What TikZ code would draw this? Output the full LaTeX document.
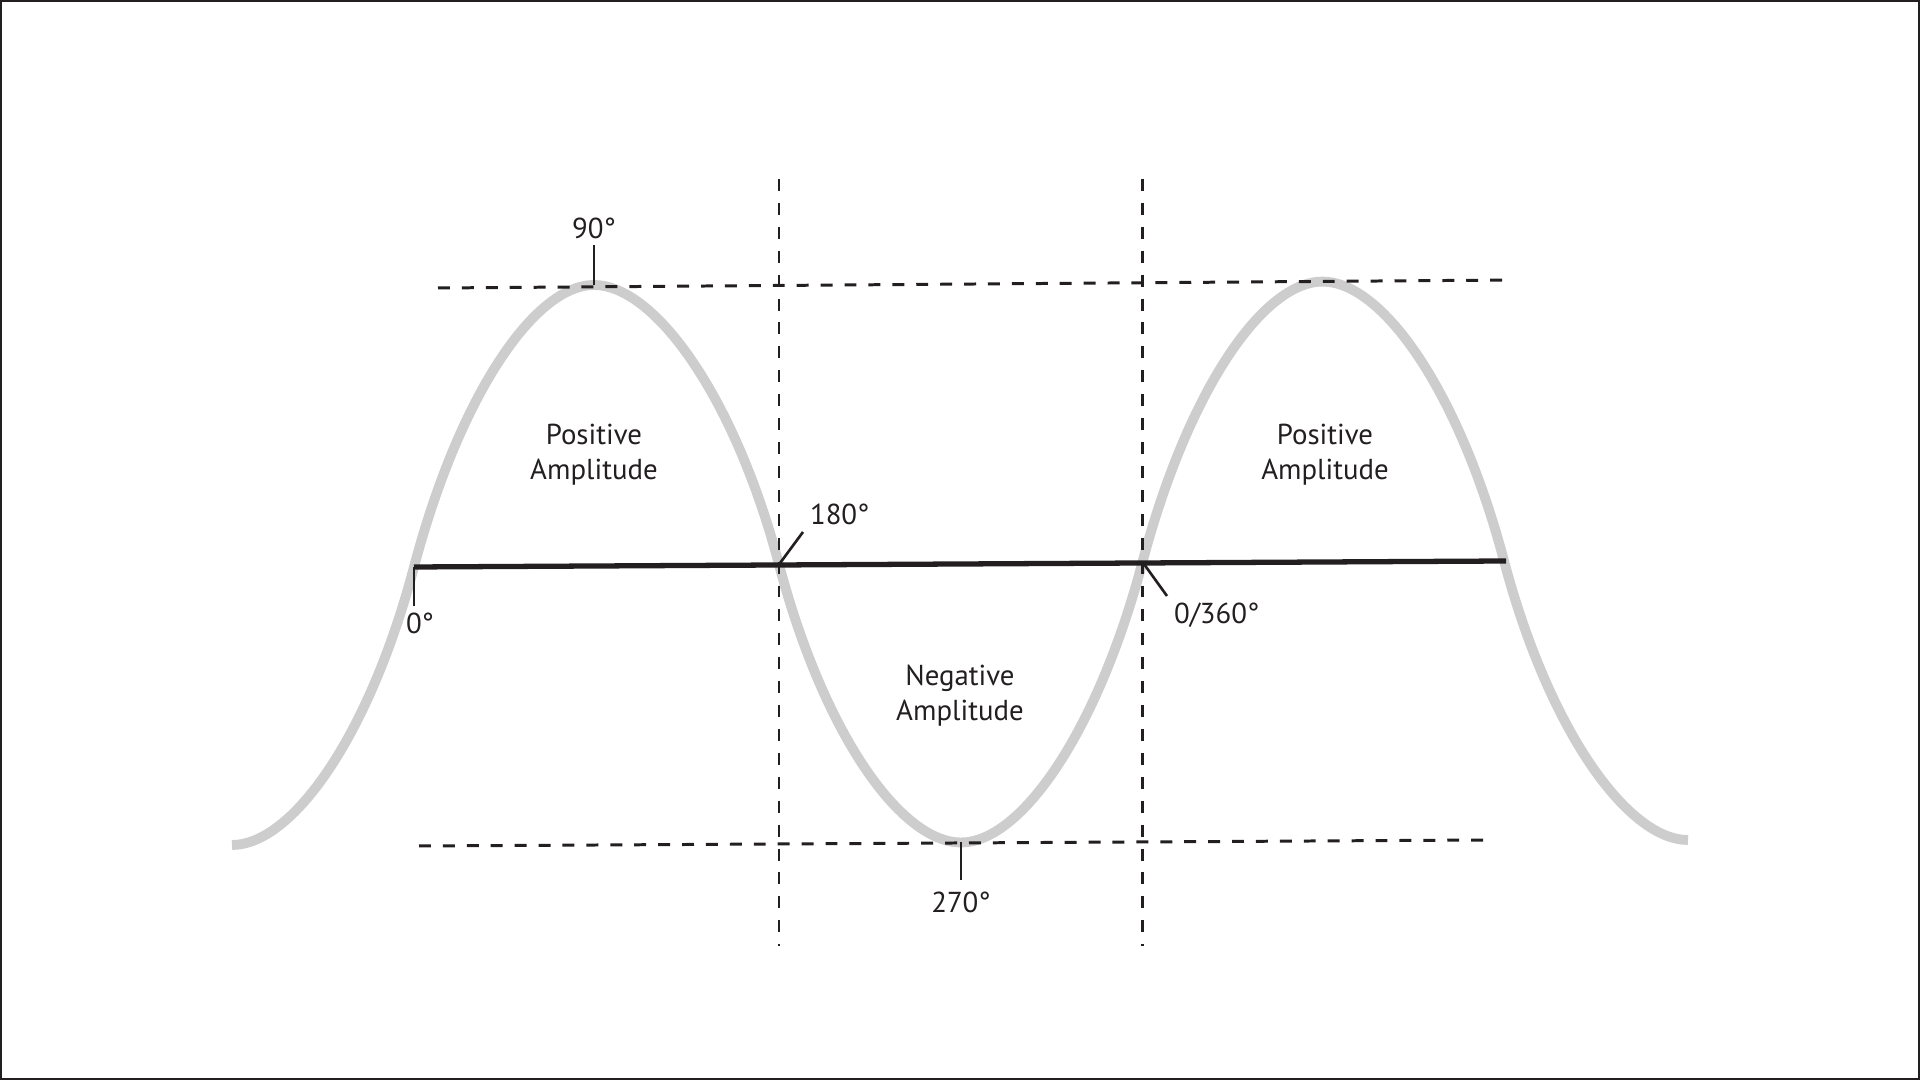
\documentclass[tikz,border=0pt]{standalone}
\usepackage{fontspec}
\setmainfont{PT Sans}
\usepackage{tikz}
\definecolor{ink}{RGB}{35,31,32}
\definecolor{wave}{RGB}{205,205,205}

\begin{document}
\begin{tikzpicture}[x=0.01cm, y=-0.01cm,
  font=\fontsize{8.2}{10}\selectfont,
  guide/.style={ink, line width=0.85pt, dash pattern=on 3.4pt off 3.4pt},
  tick/.style={ink, line width=0.75pt},
  lab/.style={text=ink, inner sep=1.8pt, align=center}]
  \useasboundingbox (0,0) rectangle (1920,1080);
  \draw[ink, line width=0.6pt] (1,1) rectangle (1919,1079);
  \coordinate (w0)   at (232,845);
  \coordinate (p0)   at (414,567);
  \coordinate (p90)  at (594,285);
  \coordinate (p180) at (779,564.5);
  \coordinate (p270) at (961,842.5);
  \coordinate (p360) at (1142.5,562);
  \coordinate (p450) at (1322.5,281.6);
  \coordinate (p540) at (1504,560.8);
  \coordinate (w1)   at (1688,840);
  % the wave
  \draw[wave, line width=2.8pt]
    (w0) .. controls +(60,0) and +(-45,170) .. (p0)
         .. controls +(45,-170) and +(-60,0) .. (p90)
         .. controls +(60,0) and +(-45,-170) .. (p180)
         .. controls +(45,170) and +(-60,0) .. (p270)
         .. controls +(60,0) and +(-45,170) .. (p360)
         .. controls +(45,-170) and +(-60,0) .. (p450)
         .. controls +(60,0) and +(-45,-170) .. (p540)
         .. controls +(45,170) and +(-60,0) .. (w1);
  \coordinate (ax)  at (1506,561);
  \coordinate (gt0) at (438,288);  \coordinate (gt1) at (1514,280);
  \coordinate (gb0) at (419,846);  \coordinate (gb1) at (1490,840);
  \coordinate (ga0) at (779,179);  \coordinate (ga1) at (779,946);
  \coordinate (gc0) at (1142.5,179); \coordinate (gc1) at (1142.5,946);
  \draw[guide] (gt0) -- (gt1);
  \draw[guide] (gb0) -- (gb1);
  \draw[guide] (ga0) -- (ga1);
  \draw[guide] (gc0) -- (gc1);
  \draw[ink, line width=1.5pt] (p0) -- (ax);
  % labels
  \node[lab] (l90)  at (594,228) {90°};
  \node[lab] (l0)   at (420,623) {0°};
  \node[lab, anchor=south west] (l180) at (803,532) {180°};
  \node[lab, anchor=north west] (l360) at (1167,596) {0/360°};
  \node[lab, inner sep=3pt] (l270) at (961,902) {270°};
  \node[lab] (pos1) at (594,455) {Positive\\Amplitude};
  \node[lab] (pos2) at (1325,455) {Positive\\Amplitude};
  \node[lab] (neg)  at (960,696) {Negative\\Amplitude};
  \draw[tick] (p90) -- (l90.south -| p90);
  \draw[tick] (p0) -- (l0.north -| p0);
  \draw[tick] (p180) -- (l180.south west);
  \draw[tick] (p360) -- (l360.north west);
  \draw[tick] (p270) -- (l270.north -| p270);
\end{tikzpicture}
\end{document}
